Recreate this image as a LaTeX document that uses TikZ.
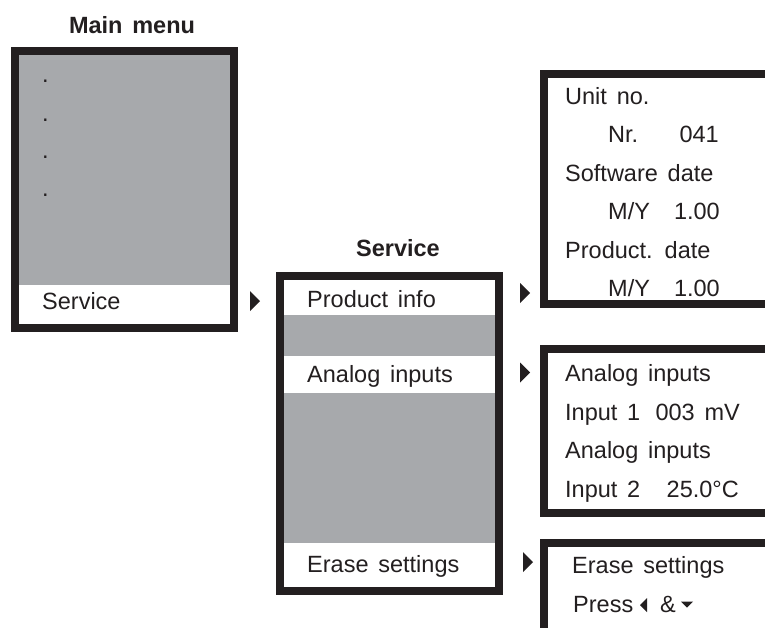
\documentclass[tikz,border=0pt]{standalone}
\usepackage{fontspec}
\setmainfont{Liberation Sans}[WordSpace=1.5]
\usetikzlibrary{positioning}
\definecolor{ink}{RGB}{35,31,32}
\definecolor{screengray}{RGB}{167,169,172}
\tikzset{%
  % Specifications for style of nodes:
  screen/.style = {rectangle, draw=ink, line width=8pt,
    fill=screengray, inner sep=0pt},
  panel/.style = {screen, fill=white},
  band/.style = {rectangle, fill=white, inner sep=0pt,
    minimum width=211pt},
  entry/.style = {anchor=base west, inner sep=0pt, text=ink,
    font=\fontsize{23.5}{28}\selectfont},
  value/.style = {entry, anchor=base east},
  heading/.style = {entry, anchor=base,
    font=\bfseries\fontsize{23.5}{28}\selectfont},
  pointer/.pic = {\fill[ink] (-5,-10) -- (5,0) -- (-5,10) -- cycle;},
}

\begin{document}
\begin{tikzpicture}[x=1pt, y=-1pt]
  \useasboundingbox (0,0) rectangle (765,627);
  \clip (0,0) rectangle (765,627);
  % Main menu
  \node[heading] (mainhead) at (132,33) {Main menu};
  \node[screen, minimum width=219pt, minimum height=277pt] (main) at (124.5,189.5) {};
  \node[band, minimum height=39pt] (mainsel) at (124.5,304.5) {};
  \node[entry] (dot1) at (42,82) {.};
  \node[entry] (dot2) at (42,121) {.};
  \node[entry] (dot3) at (42,158) {.};
  \node[entry] (dot4) at (42,196) {.};
  \node[entry] (mainsrv) at (42,309) {Service};
  % Service menu
  \node[heading] (srvhead) at (398,256) {Service};
  \node[screen, minimum width=219pt, minimum height=315pt] (srv) at (389.5,433.5) {};
  \node[band, minimum height=35pt] (srvinfo) at (389.5,297.5) {};
  \node[band, minimum height=37pt] (srvanalog) at (389.5,374.5) {};
  \node[band, minimum height=44pt] (srverase) at (389.5,565) {};
  \node[entry] (info) at (307,307) {Product info};
  \node[entry] (analog) at (307,382) {Analog inputs};
  \node[entry] (erase) at (307,572) {Erase settings};
  % Product info screen
  \node[panel, minimum width=256pt, minimum height=230pt] (infoscr) at (672,189) {};
  \node[entry] (unit) at (565,104) {Unit no.};
  \node[entry] (nr) at (608,142.5) {Nr.};
  \node[value] (nrval) at (719,142.5) {041};
  \node[entry] (swdate) at (565,181) {Software date};
  \node[entry] (swmy) at (608,219.5) {M/Y};
  \node[value] (swval) at (720,219.5) {1.00};
  \node[entry] (pddate) at (565,258) {Product. date};
  \node[entry] (pdmy) at (608,296.5) {M/Y};
  \node[value] (pdval) at (720,296.5) {1.00};
  % Analog inputs screen
  \node[panel, minimum width=256pt, minimum height=164pt] (analogscr) at (672,431) {};
  \node[entry] (ain1) at (565,381.5) {Analog inputs};
  \node[entry] (in1) at (565,420) {Input 1};
  \node[value] (in1val) at (740,420) {003 mV};
  \node[entry] (ain2) at (565,458.5) {Analog inputs};
  \node[entry] (in2) at (565,497) {Input 2};
  \node[value] (in2val) at (739,497) {25.0°C};
  % Erase settings screen
  \node[panel, minimum width=256pt, minimum height=117pt] (erasescr) at (672,601.5) {};
  \node[entry] (erasehead) at (572,573) {Erase settings};
  \node[entry] (press) at (573,612) {Press};
  \node[entry] (amp) at (660,612) {\&};
  \fill[ink] (647,598) -- (647,612) -- (640,605) -- cycle;
  \fill[ink] (681,601.5) -- (693,601.5) -- (687,607.5) -- cycle;
  % Pointers
  \pic at (255,301) {pointer};
  \pic at (525,293) {pointer};
  \pic at (525,372.5) {pointer};
  \pic at (528,562) {pointer};
\end{tikzpicture}
\end{document}
